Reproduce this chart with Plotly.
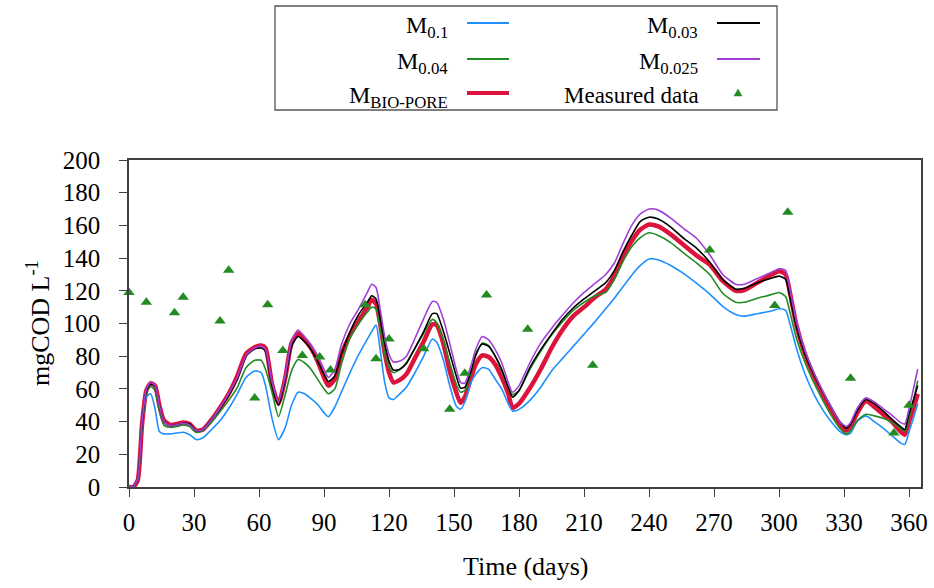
import plotly.graph_objects as go

# ---------------- data ----------------
days = [0, 2, 4, 6, 8, 10, 12, 14, 16,
        19, 22, 25, 28, 31, 34, 38, 42, 46, 50,
        54, 58, 61, 63, 66, 69, 72, 75, 78, 81,
        84, 87, 90, 92, 95, 98, 102, 106, 110, 112,
        114, 116, 118, 120, 122, 125, 128, 132, 136, 140,
        142, 145, 148, 151, 153, 155, 158, 160, 163, 166,
        169, 172, 175, 177, 180, 185, 190, 195, 200, 205,
        210, 215, 220, 224, 228, 232, 236, 240, 244, 250,
        256, 262, 268, 274, 280, 284, 290, 296, 300, 303,
        305, 308, 312, 316, 320, 324, 328, 331, 333, 336,
        340, 344, 348, 352, 356, 358, 360, 362, 364]

m_01 = [0, 0.5, 5, 38, 55, 57, 48, 34, 32.5,
        32.5, 33, 33.5, 32, 29, 30, 35, 40.5, 48, 57,
        67, 71, 70, 62, 42, 29, 36, 50, 58, 57,
        54, 50.5, 45.5, 43, 49, 58, 70, 81, 90.5, 95,
        99, 83, 64, 54.5, 53.5, 57, 61, 70, 80, 90.5,
        88.5, 78, 62, 49.5, 47.5, 52, 64.5, 69, 73, 72,
        66, 60, 51, 46.5, 47.5, 53, 61, 71, 78.5, 86,
        93.5, 101, 109, 115.5, 122.5, 129.5, 135.5, 139.5, 139, 135.5,
        130.5, 124.5, 118, 110.5, 105.5, 104.5, 106, 107.5, 109, 108,
        100, 85, 69, 57, 47.5, 40, 34, 32, 33, 40,
        43.5, 40, 36, 31.5, 27, 26, 34, 42, 51]

m_003 = [0, 0.5, 5, 38, 59, 63, 61.5, 50, 40,
         37.5, 38, 39, 38.5, 34.5, 35, 41, 48, 56, 66,
         80, 84.5, 85, 83, 62, 50, 65, 86, 92, 89,
         84, 77, 69, 64.5, 68, 81, 95, 105.5, 113, 117,
         115, 102.5, 88, 77, 71.5, 72, 75.5, 85, 95, 106,
         106, 95.5, 82, 68, 60.5, 61, 71.5, 81, 87.5, 86,
         80, 72, 61, 55, 59, 73, 84, 93.5, 102.5, 109.5,
         115, 120, 125, 132.5, 144, 154, 162.5, 165, 164, 159,
         152, 146, 137.5, 127, 121, 121.5, 125, 127.5, 129, 127,
         116, 98, 81, 69, 58.5, 49, 40, 36, 38.5, 46.5,
         53.5, 51, 46.5, 41.5, 37, 35, 45, 53, 62]

m_004 = [0, 0.5, 5, 38, 58, 61.5, 59, 47, 38,
         36.5, 37, 38, 37, 33.5, 34.5, 39.5, 46, 53, 61,
         73, 77.5, 77.5, 72, 58, 43, 56, 71, 78, 76,
         72, 66, 60, 57, 60, 75, 91, 100, 107, 110,
         109, 96, 82, 73.5, 70, 72, 76, 85, 94, 102.5,
         100.5, 90, 76, 63, 58, 59, 71, 80, 88, 86.5,
         80, 71, 61, 56.5, 59, 72, 83, 93, 101, 108,
         113, 117, 119, 127, 138, 147, 152.5, 155.5, 154, 149.5,
         143, 137, 130, 118.5, 113, 113, 115.5, 117.5, 119, 116.5,
         107, 91, 76, 64, 53.5, 44, 36, 32.5, 34.5, 40.5,
         44.5, 43.5, 42, 39.5, 36, 34, 42, 53, 65]

m_0025 = [0, 0.5, 5, 39, 60, 64, 62, 50, 40,
          37.5, 38, 39, 38, 34.5, 35, 41, 48.5, 57, 67,
          80.5, 85, 86, 84, 64, 52, 67, 89, 96, 92,
          87, 80.5, 72, 67, 72, 87, 100, 109, 119, 124,
          122, 108, 92, 81, 76.5, 77, 80, 91, 103, 113.5,
          113, 103, 88, 72, 64, 63.5, 75, 84, 92, 90,
          84, 76, 64, 58, 62, 76, 88, 97, 105, 112.5,
          119, 124.5, 130, 137, 149, 160, 167, 170, 169.5, 164.5,
          158, 152, 142, 130, 124, 124, 127.5, 131, 133.5, 132.5,
          121, 101, 83, 70, 59, 49, 40, 37, 39.5, 48,
          54.5, 52, 48, 44, 39.5, 38.5, 48, 60, 72]

m_bio = [0, 0, 4, 38, 59, 63.5, 62, 50, 41,
         38, 38.5, 39.5, 38.5, 34.5, 35, 41, 48.5, 57, 68,
         81.5, 85.5, 86.5, 85, 63, 51, 66, 88, 94, 90,
         85, 77, 67, 62, 66, 81, 93, 101.5, 110, 114.5,
         112, 99, 82, 70, 64, 65.5, 69, 79, 89, 99.5,
         99, 88, 71, 58, 51.5, 55, 67.5, 75, 80.5, 79.5,
         75, 67, 57, 48.5, 51, 60.5, 72, 85, 96, 104.5,
         110, 116, 121, 129, 141, 150.5, 157.5, 160.5, 159.5, 154.5,
         148, 141.5, 136, 126, 120, 120.5, 125, 129.5, 132, 130,
         119, 99, 81, 68, 57, 47, 38, 34.5, 37, 45,
         52.5, 49, 44.5, 40, 34, 32, 40, 48, 57]

meas_days = [0, 8, 21, 25, 42, 46, 58, 64, 71, 80, 88, 93, 109, 114, 120,
             136, 148, 155, 165, 184, 214, 268, 298, 304, 333, 353, 360]
meas_vals = [119, 113, 106.5, 116, 101.5, 132.5, 54.5, 111.5, 83.5, 80.5, 79.5,
             71.5, 111.5, 78.5, 90.5, 84.5, 47.5, 69.5, 117.5, 96.5, 74.5, 145,
             111, 168, 66.5, 33, 50]

x_ticks = [0, 30, 60, 90, 120, 150, 180, 210, 240, 270, 300, 330, 360]
y_ticks = [0, 20, 40, 60, 80, 100, 120, 140, 160, 180, 200]

# ---------------- styling ----------------
W, H = 934, 588
L, R, T, B = 129, 13, 160, 101
PW, PH = W - L - R, H - T - B
FONT = "Liberation Serif"

C_BLUE = "#1E90FF"
C_BLACK = "#000000"
C_GREEN = "#228B22"
C_PURPLE = "#A040D8"
C_RED = "#DC143C"
AX = "#404040"


def xp(px):
    return (px - L) / PW


def yp(py):
    return (H - B - py) / PH


fig = go.Figure()

series = [
    ("M<sub>BIO-PORE</sub>", m_bio, C_RED, 4.5),
    ("M<sub>0.1</sub>", m_01, C_BLUE, 1.6),
    ("M<sub>0.04</sub>", m_004, C_GREEN, 1.6),
    ("M<sub>0.03</sub>", m_003, C_BLACK, 1.6),
    ("M<sub>0.025</sub>", m_0025, C_PURPLE, 1.6),
]
for name, vals, col, w in series:
    fig.add_trace(go.Scatter(x=days, y=vals, mode="lines", name=name,
                             line=dict(color=col, width=w, shape="spline", smoothing=0.6),
                             showlegend=False))

fig.add_trace(go.Scatter(x=meas_days, y=meas_vals, mode="markers", name="Measured data",
                         marker=dict(symbol="triangle-up", size=10, color=C_GREEN),
                         cliponaxis=False, showlegend=False))

# ---------------- manual legend ----------------
shapes = [dict(type="rect", xref="paper", yref="paper",
               x0=xp(275), x1=xp(777), y0=yp(6), y1=yp(110),
               line=dict(color="#555555", width=1.3), fillcolor="white", layer="above")]
annotations = []
legend_items = [
    ("M<sub>0.1</sub>", C_BLUE, 2.2, 450, 467, 509, 23),
    ("M<sub>0.04</sub>", C_GREEN, 2.2, 450, 467, 509, 59),
    ("M<sub>BIO-PORE</sub>", C_RED, 4, 450, 467, 509, 93),
    ("M<sub>0.03</sub>", C_BLACK, 2.2, 700, 717, 760, 23),
    ("M<sub>0.025</sub>", C_PURPLE, 2.2, 700, 717, 760, 59),
]
for txt, col, w, tx, lx0, lx1, ly in legend_items:
    shapes.append(dict(type="line", xref="paper", yref="paper",
                       x0=xp(lx0), x1=xp(lx1), y0=yp(ly), y1=yp(ly),
                       line=dict(color=col, width=w), layer="above"))
    annotations.append(dict(text=txt, xref="paper", yref="paper", x=xp(tx), y=yp(ly + 4),
                            xanchor="right", yanchor="middle", showarrow=False,
                            font=dict(family=FONT, size=24, color="black")))
# measured data entry
annotations.append(dict(text="Measured data", xref="paper", yref="paper", x=xp(701), y=yp(96),
                        xanchor="right", yanchor="middle", showarrow=False,
                        font=dict(family=FONT, size=23, color="black")))
tx, ty = 738, 93
shapes.append(dict(type="path", xref="paper", yref="paper",
                   path=f"M {xp(tx-4)},{yp(ty+3)} L {xp(tx+4)},{yp(ty+3)} L {xp(tx)},{yp(ty-4)} Z",
                   fillcolor=C_GREEN, line=dict(color=C_GREEN, width=0.5), layer="above"))

# axis titles
annotations.append(dict(text="Time (days)", xref="paper", yref="paper", x=xp(525), y=yp(566),
                        xanchor="center", yanchor="middle", showarrow=False,
                        font=dict(family=FONT, size=26, color="black")))
annotations.append(dict(text="mgCOD L<sup>-1</sup>", xref="paper", yref="paper", x=xp(38), y=yp(323),
                        xanchor="center", yanchor="middle", showarrow=False, textangle=-90,
                        font=dict(family=FONT, size=26, color="black")))

fig.update_layout(
    width=W, height=H,
    margin=dict(l=L, r=R, t=T, b=B, pad=0, autoexpand=False),
    paper_bgcolor="white", plot_bgcolor="white",
    font=dict(family=FONT, size=24, color="black"),
    shapes=shapes, annotations=annotations,
    showlegend=False,
)
fig.update_xaxes(range=[0, 365.5], tickmode="array", tickvals=x_ticks,
                 ticks="outside", ticklen=8, tickwidth=1.2, tickcolor=AX,
                 showline=True, linecolor=AX, linewidth=1.5, mirror=True,
                 showgrid=False, zeroline=False, automargin=False,
                 ticklabelstandoff=4,
                 tickfont=dict(family=FONT, size=25, color="black"))
fig.update_yaxes(range=[0, 200], tickmode="array", tickvals=y_ticks,
                 ticks="outside", ticklen=8, tickwidth=1.2, tickcolor=AX,
                 showline=True, linecolor=AX, linewidth=1.5, mirror=True,
                 showgrid=False, zeroline=False, automargin=False,
                 ticklabelstandoff=14,
                 tickfont=dict(family=FONT, size=25, color="black"))

fig.write_html("out.html",
               config={"displayModeBar": False},
               post_script="document.body.style.margin='0';document.body.style.padding='0';")
